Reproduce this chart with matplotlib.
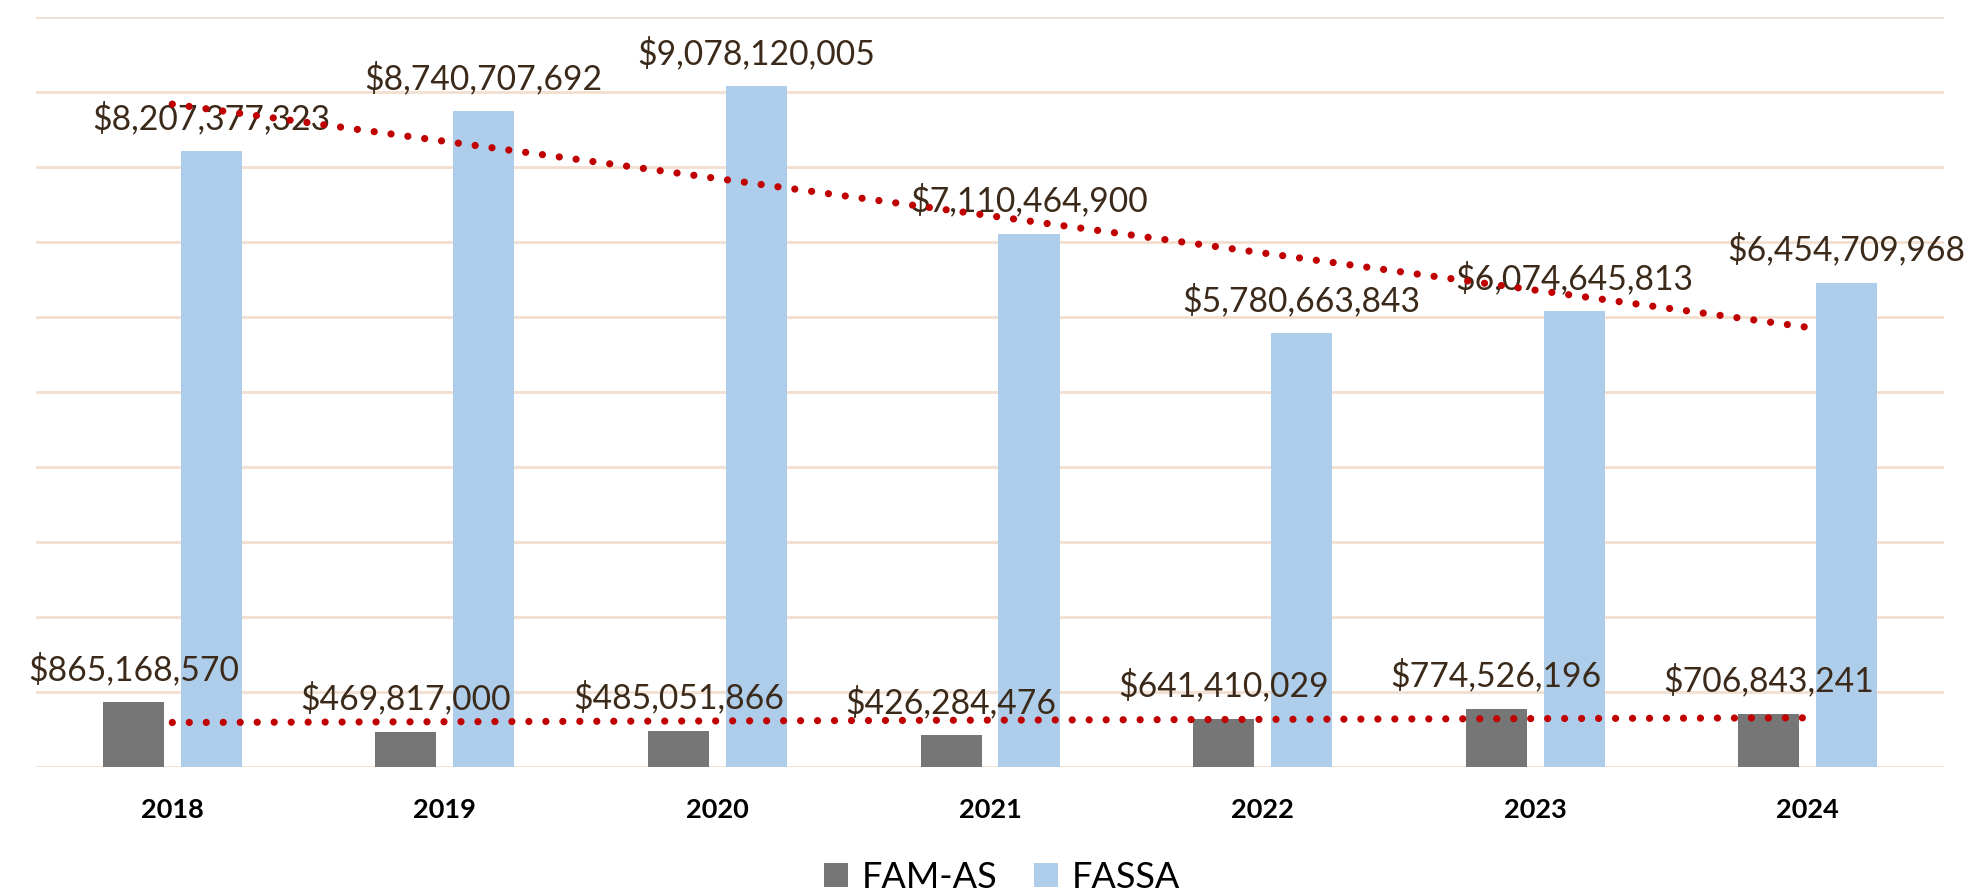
import matplotlib.pyplot as plt
import numpy as np
from matplotlib.patches import Patch

# ---------- DATA ----------
anios = ["2018", "2019", "2020", "2021", "2022", "2023", "2024"]
fam_as = [865168570, 469817000, 485051866, 426284476, 641410029, 774526196, 706843241]
fassa = [8207377323, 8740707692, 9078120005, 7110464900, 5780663843, 6074645813, 6454709968]

# ---------- STYLE ----------
gris = "#767676"
azul = "#AECDEA"
rojo = "#C00000"
rejilla = "#F2DFCF"
color_etiqueta = "#3B2A1A"
fuente = "Lato"

ancho = 0.224
desplaz = 0.143

fig = plt.figure(figsize=(19.69, 8.91), dpi=100)
ax = fig.add_axes([0.0183, 0.1392, 0.9690, 0.8418])

x = np.arange(len(anios))

# rejilla horizontal
for v in np.arange(0, 10.5e9, 1e9):
    ax.axhline(v, color=rejilla, lw=2, zorder=0)

barras_gris = ax.bar(x - desplaz, fam_as, width=ancho, color=gris, zorder=2)
barras_azul = ax.bar(x + desplaz, fassa, width=ancho, color=azul, zorder=2)

# etiquetas de datos
def etiquetar(barras, valores):
    for b, v in zip(barras, valores):
        ax.annotate(f"${v:,.0f}",
                    xy=(b.get_x() + b.get_width() / 2, b.get_height()),
                    xytext=(0, 16), textcoords="offset points",
                    ha="center", va="baseline",
                    fontsize=24.2, color=color_etiqueta, family=fuente,
                    zorder=3, annotation_clip=False)

etiquetar(barras_gris, fam_as)
etiquetar(barras_azul, fassa)

# lineas de tendencia (lineales)
for serie in (fam_as, fassa):
    m, b = np.polyfit(x, np.array(serie, dtype=float), 1)
    ax.plot(x, m * x + b, color=rojo, lw=5.2,
            linestyle=(0, (0.001, 2.35)), dash_capstyle="round", zorder=5)

ax.set_xlim(-0.5, len(anios) - 0.5)
ax.set_ylim(0, 10e9)
ax.set_xticks(x)
ax.set_xticklabels(anios, fontsize=19.5, fontweight="bold", family=fuente, color="black")
ax.tick_params(axis="x", length=0, pad=22)
ax.set_yticks([])
for s in ax.spines.values():
    s.set_visible(False)

handles = [Patch(facecolor=gris, label="FAM-AS"), Patch(facecolor=azul, label="FASSA")]
fig.legend(handles=handles, loc="center", bbox_to_anchor=(0.509, 1 - 877 / 891),
           ncol=2, frameon=False, prop={"family": fuente, "size": 26},
           handlelength=0.66, handleheight=0.66, handletextpad=0.4, columnspacing=1.0)

fig.savefig("out.png", dpi=100)
